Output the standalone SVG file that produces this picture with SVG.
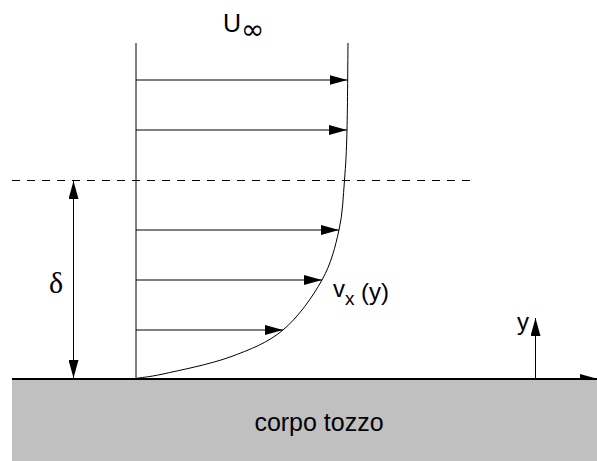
<svg xmlns="http://www.w3.org/2000/svg" width="597" height="461" viewBox="0 0 597 461">
  <style>
    .ln { stroke: #000; stroke-width: 1; fill: none; }
    .arr { stroke: #000; stroke-width: 1; fill: none; marker-end: url(#ah); }
    .txt { font-family: "Liberation Sans", Arial, sans-serif; fill: #000; }
  </style>
  <defs>
    <marker id="ah" viewBox="0 0 18 10" refX="18" refY="5" markerWidth="18" markerHeight="10" markerUnits="userSpaceOnUse" orient="auto-start-reverse">
      <path d="M0,0 L18,5 L0,10 Z" fill="#000"/>
    </marker>
  </defs>
  <rect x="0" y="0" width="597" height="461" fill="#fff"/>

  <g id="connectors">
    <!-- x-axis / wall line with arrow -->
    <line x1="12" y1="379" x2="598" y2="379" stroke="#000" stroke-width="2" marker-end="url(#ah)"/>
  </g>

  <g id="body">
    <rect x="12" y="380" width="590" height="85" fill="#c0c0c0"/>
    <text class="txt" x="319" y="431" font-size="25" text-anchor="middle">corpo tozzo</text>
  </g>

  <g id="profile">
    <line class="ln" x1="136" y1="43" x2="136" y2="379"/>
    <path class="ln" d="M348,43 C347.83,57.5 347.58,107.17 347,130 C346.42,152.83 345.83,163.33 344.5,180 C343.17,196.67 342.75,213.33 339,230 C335.25,246.67 331.33,263.33 322,280 C312.67,296.67 298.33,317.17 283,330 C267.67,342.83 250,349.67 230,357 C210,364.33 178.67,370.5 163,374 C147.33,377.5 140.5,377.33 136,378.5"/>
  </g>

  <g id="velocity-arrows">
    <line class="arr" x1="136" y1="80" x2="347.5" y2="80"/>
    <line class="arr" x1="136" y1="130" x2="347" y2="130"/>
    <line class="arr" x1="136" y1="230" x2="339" y2="230"/>
    <line class="arr" x1="136" y1="280" x2="322" y2="280"/>
    <line class="arr" x1="136" y1="330" x2="283" y2="330"/>
  </g>

  <g id="boundary-layer">
    <line class="ln" x1="12" y1="180.5" x2="470" y2="180.5" stroke-dasharray="8 7"/>
    <line class="ln" x1="73.5" y1="181" x2="73.5" y2="378" marker-start="url(#ah)" marker-end="url(#ah)"/>
    <text x="56" y="293" font-size="30" text-anchor="middle" font-family="'Liberation Serif', 'Times New Roman', serif">δ</text>
  </g>

  <g id="y-axis">
    <line class="arr" x1="535.5" y1="378" x2="535.5" y2="318"/>
    <text class="txt" x="517" y="330" font-size="24">y</text>
  </g>

  <g id="labels">
    <text class="txt" x="223" y="32" font-size="25">U</text>
    <text x="241" y="39" font-size="28" font-family="'DejaVu Sans', sans-serif">∞</text>
    <text class="txt" x="333" y="297" font-size="24">v</text>
    <text class="txt" x="345" y="305" font-size="19">x</text>
    <text class="txt" x="361" y="300" font-size="24">(y)</text>
  </g>
</svg>
